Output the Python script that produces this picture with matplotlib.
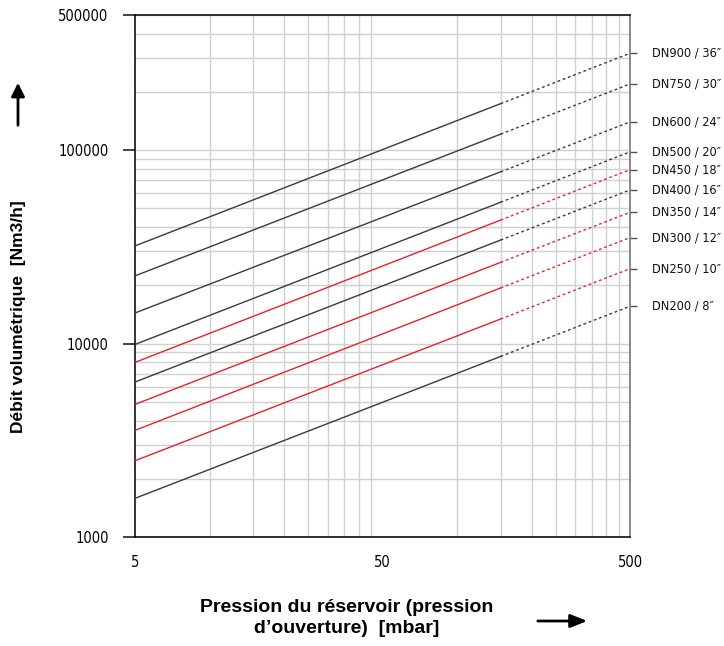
import matplotlib
matplotlib.use("Agg")
import matplotlib.pyplot as plt
from matplotlib.ticker import FixedLocator, NullFormatter, FixedFormatter

# ---- data ----
pressure_solid = [5, 150]
pressure_dash = [150, 500]
names = ["DN900 / 36\u2033", "DN750 / 30\u2033", "DN600 / 24\u2033", "DN500 / 20\u2033",
         "DN450 / 18\u2033", "DN400 / 16\u2033", "DN350 / 14\u2033", "DN300 / 12\u2033",
         "DN250 / 10\u2033", "DN200 / 8\u2033"]
flow_at_5 = [32000, 22400, 14400, 9900, 8000, 6330, 4850, 3560, 2480, 1585]
flow_at_150 = [174000, 121000, 77300, 53800, 43500, 34300, 26300, 19400, 13400, 8580]
flow_at_500 = [317000, 220000, 140000, 98000, 79300, 62300, 47700, 35300, 24400, 15600]
is_red = [False, False, False, False, True, False, True, True, True, False]

x_major = [5, 50, 500]
x_grid = [5 * k for k in range(2, 10)] + [50 * k for k in range(2, 10)]
y_major = [1000, 10000, 100000, 500000]
y_major_labels = ["1000", "10000", "100000", "500000"]

plt.rcParams['font.family'] = ["Liberation Sans", "DejaVu Sans"]

fig = plt.figure(figsize=(7.24, 6.46), dpi=100)
ax = fig.add_axes([0.1865, 0.1687, 0.8702 - 0.1865, 0.9768 - 0.1687])
ax.set_xscale("log")
ax.set_yscale("log")
ax.set_xlim(5, 500)
ax.set_ylim(1000, 500000)

BLACK = "#3a3a3a"
RED = "#e3242b"
for n, a, b, c, r in zip(names, flow_at_5, flow_at_150, flow_at_500, is_red):
    col = RED if r else BLACK
    ax.plot(pressure_solid, [a, b], color=col, lw=1.0, zorder=3)
    ax.plot(pressure_dash, [b, c], color=col, lw=1.0, ls=(0, (2, 2)), zorder=3)
    ax.text(1.045, c, n, transform=ax.get_yaxis_transform(), va="center", ha="left",
            fontsize=9.2, color="#111111", family=["DejaVu Sans"], fontstretch="condensed")

# x ticks
ax.xaxis.set_major_locator(FixedLocator(x_major))
ax.xaxis.set_major_formatter(FixedFormatter([str(v) for v in x_major]))
ax.xaxis.set_minor_locator(FixedLocator(x_grid))
ax.xaxis.set_minor_formatter(NullFormatter())
ax.tick_params(axis="x", which="both", length=0, pad=13)

# y ticks
ax.yaxis.set_major_locator(FixedLocator(y_major))
ax.yaxis.set_major_formatter(FixedFormatter(y_major_labels))
y_grid = []
for d in [1000, 10000, 100000]:
    for k in range(2, 10):
        v = d * k
        if v < 500000:
            y_grid.append(v)
ax.yaxis.set_minor_locator(FixedLocator(y_grid))
ax.yaxis.set_minor_formatter(NullFormatter())
ax.tick_params(axis="y", which="major", length=9, width=1.2, color="#222222", pad=10)
ax.tick_params(axis="y", which="minor", length=0)
for lab in ax.get_xticklabels() + ax.get_yticklabels():
    lab.set_family(["DejaVu Sans"])
    lab.set_fontstretch("condensed")
    lab.set_fontsize(10.5)

ax.grid(True, which="minor", axis="both", color="#d0d0d0", lw=1.0, zorder=0)
ax.grid(True, which="major", axis="y", color="#d0d0d0", lw=1.0, zorder=0)

for s in ["left", "bottom", "top"]:
    ax.spines[s].set_color("#111111")
    ax.spines[s].set_linewidth(1.2)
ax.spines["right"].set_color("#777777")
ax.spines["right"].set_linewidth(1.2)

# right ticks at line ends
ax2 = ax.twinx()
ax2.set_yscale("log")
ax2.set_ylim(ax.get_ylim())
ax2.yaxis.set_major_locator(FixedLocator(flow_at_500))
ax2.yaxis.set_minor_locator(FixedLocator([]))
ax2.yaxis.set_major_formatter(NullFormatter())
ax2.yaxis.set_minor_formatter(NullFormatter())
ax2.tick_params(axis="y", which="major", length=5, width=1.0, color="#555555")
for s in ax2.spines.values():
    s.set_visible(False)

# axis labels
fig.text(0.025, 0.51, "Débit volumétrique  [Nm3/h]", rotation=90, ha="center", va="center",
         fontsize=12.5, fontweight="bold")
fig.text(0.479, 0.043, "Pression du réservoir (pression\nd\u2019ouverture)  [mbar]",
         ha="center", va="center", fontsize=14, fontweight="bold", linespacing=1.3)

# arrows
fig.patches.append(matplotlib.patches.FancyArrowPatch(
    (18 / 724, 1 - 128 / 646), (18 / 724, 1 - 80 / 646), transform=fig.transFigure,
    arrowstyle="-|>,head_length=8,head_width=4", mutation_scale=1, lw=2, color="black"))
fig.patches.append(matplotlib.patches.FancyArrowPatch(
    (535 / 724, 1 - 621 / 646), (590 / 724, 1 - 621 / 646), transform=fig.transFigure,
    arrowstyle="-|>,head_length=10,head_width=4", mutation_scale=1, lw=2, color="black"))

fig.savefig("out.png", dpi=100)
